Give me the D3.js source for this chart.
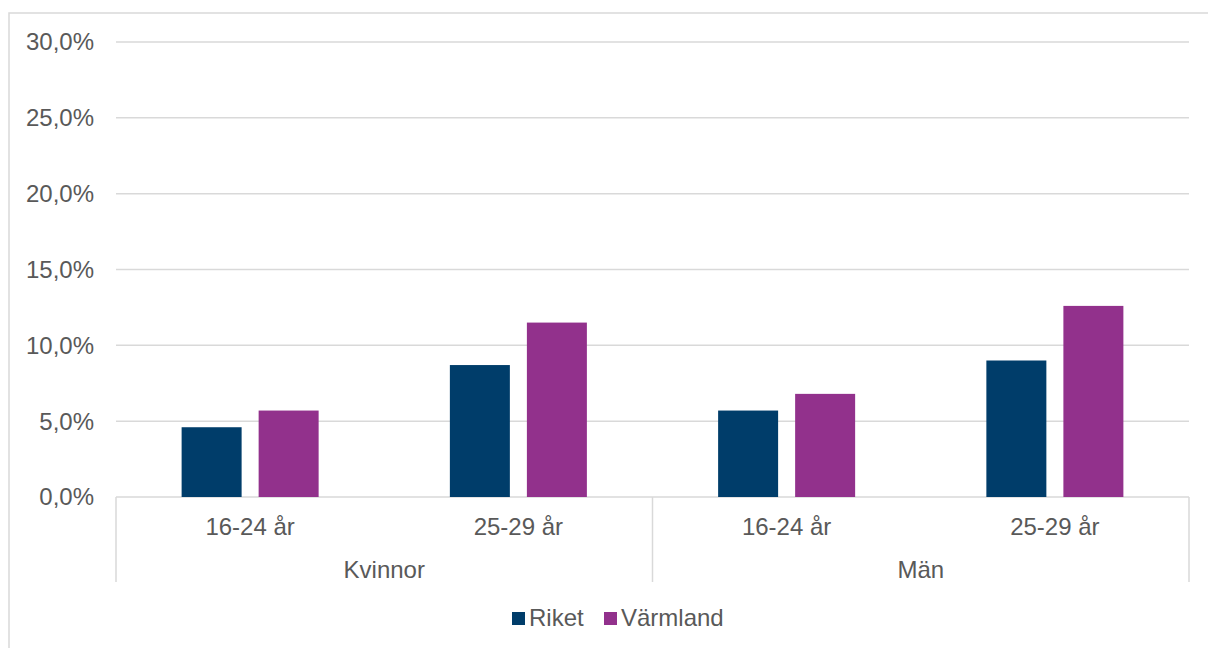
<!DOCTYPE html>
<html><head><meta charset="utf-8">
<script src="https://cdn.jsdelivr.net/npm/d3@7"></script>
<style>body{margin:0;background:#fff}svg{display:block}text{font-family:"Liberation Sans",Arial,sans-serif;fill:#595959}</style>
</head><body><svg id="c" width="1208" height="648"></svg>
<script>
const groups = ["Kvinnor", "Män"];
const ages = ["16-24 år", "25-29 år"];
const series = ["Riket", "Värmland"];
const colors = ["#003d6a", "#92318c"];
const riket = [4.6, 8.7, 5.7, 9.0];
const varmland = [5.7, 11.5, 6.8, 12.6];
const yTicks = [0, 5, 10, 15, 20, 25, 30];

const svg = d3.select("#c");
const L = 116, R = 1189, T = 42, B = 497;
const FS = 24;
svg.append("rect").attr("x", 9).attr("y", 13).attr("width", 1220).attr("height", 660)
  .attr("fill", "none").attr("stroke", "#d9d9d9").attr("stroke-width", 1.5);

const cats = [];
groups.forEach(g => ages.forEach(a => cats.push(g + "|" + a)));
const x0 = d3.scaleBand().domain(cats).range([L, R]).paddingInner(0).paddingOuter(0);
const x1 = d3.scaleBand().domain(series).range([0, x0.bandwidth()]).paddingInner(0.221).paddingOuter(0.852);
const y = d3.scaleLinear().domain([0, 30]).range([B, T]);
const fmt = v => d3.format(".1f")(v).replace(".", ",") + "%";

svg.append("g").selectAll("line").data(yTicks).join("line")
  .attr("x1", L).attr("x2", R).attr("y1", d => y(d)).attr("y2", d => y(d))
  .attr("stroke", "#d9d9d9").attr("stroke-width", 1.5);
svg.append("g").selectAll("text").data(yTicks).join("text")
  .attr("x", 94).attr("y", d => y(d)).attr("dy", "0.35em").attr("text-anchor", "end")
  .attr("font-size", FS).text(fmt);

const data = cats.map((c, i) => ({c, vals: [riket[i], varmland[i]]}));
const g = svg.append("g");
data.forEach(d => {
  d.vals.forEach((v, j) => {
    g.append("rect").attr("x", x0(d.c) + x1(series[j])).attr("width", x1.bandwidth())
      .attr("y", y(v)).attr("height", y(0) - y(v)).attr("fill", colors[j]);
  });
});

// axis separators
const gw = x0.bandwidth() * ages.length;
const seps = [L, L + gw, L + 2 * gw];
svg.append("g").selectAll("line").data(seps).join("line")
  .attr("x1", d => d).attr("x2", d => d).attr("y1", B).attr("y2", 582)
  .attr("stroke", "#d9d9d9").attr("stroke-width", 1.5);

svg.append("g").selectAll("text").data(cats).join("text")
  .attr("x", d => x0(d) + x0.bandwidth() / 2).attr("y", 527).attr("dy", "0.35em")
  .attr("text-anchor", "middle").attr("font-size", FS).text(d => d.split("|")[1]);
svg.append("g").selectAll("text").data(groups).join("text")
  .attr("x", (d, i) => L + gw * i + gw / 2).attr("y", 570).attr("dy", "0.35em")
  .attr("text-anchor", "middle").attr("font-size", FS).text(d => d);

// legend
const leg = svg.append("g");
const lx = [512, 604];
series.forEach((s, i) => {
  leg.append("rect").attr("x", lx[i]).attr("y", 612).attr("width", 13).attr("height", 13).attr("fill", colors[i]);
  leg.append("text").attr("x", lx[i] + 17).attr("y", 618).attr("dy", "0.35em")
    .attr("font-size", FS).text(s);
});
</script></body></html>
